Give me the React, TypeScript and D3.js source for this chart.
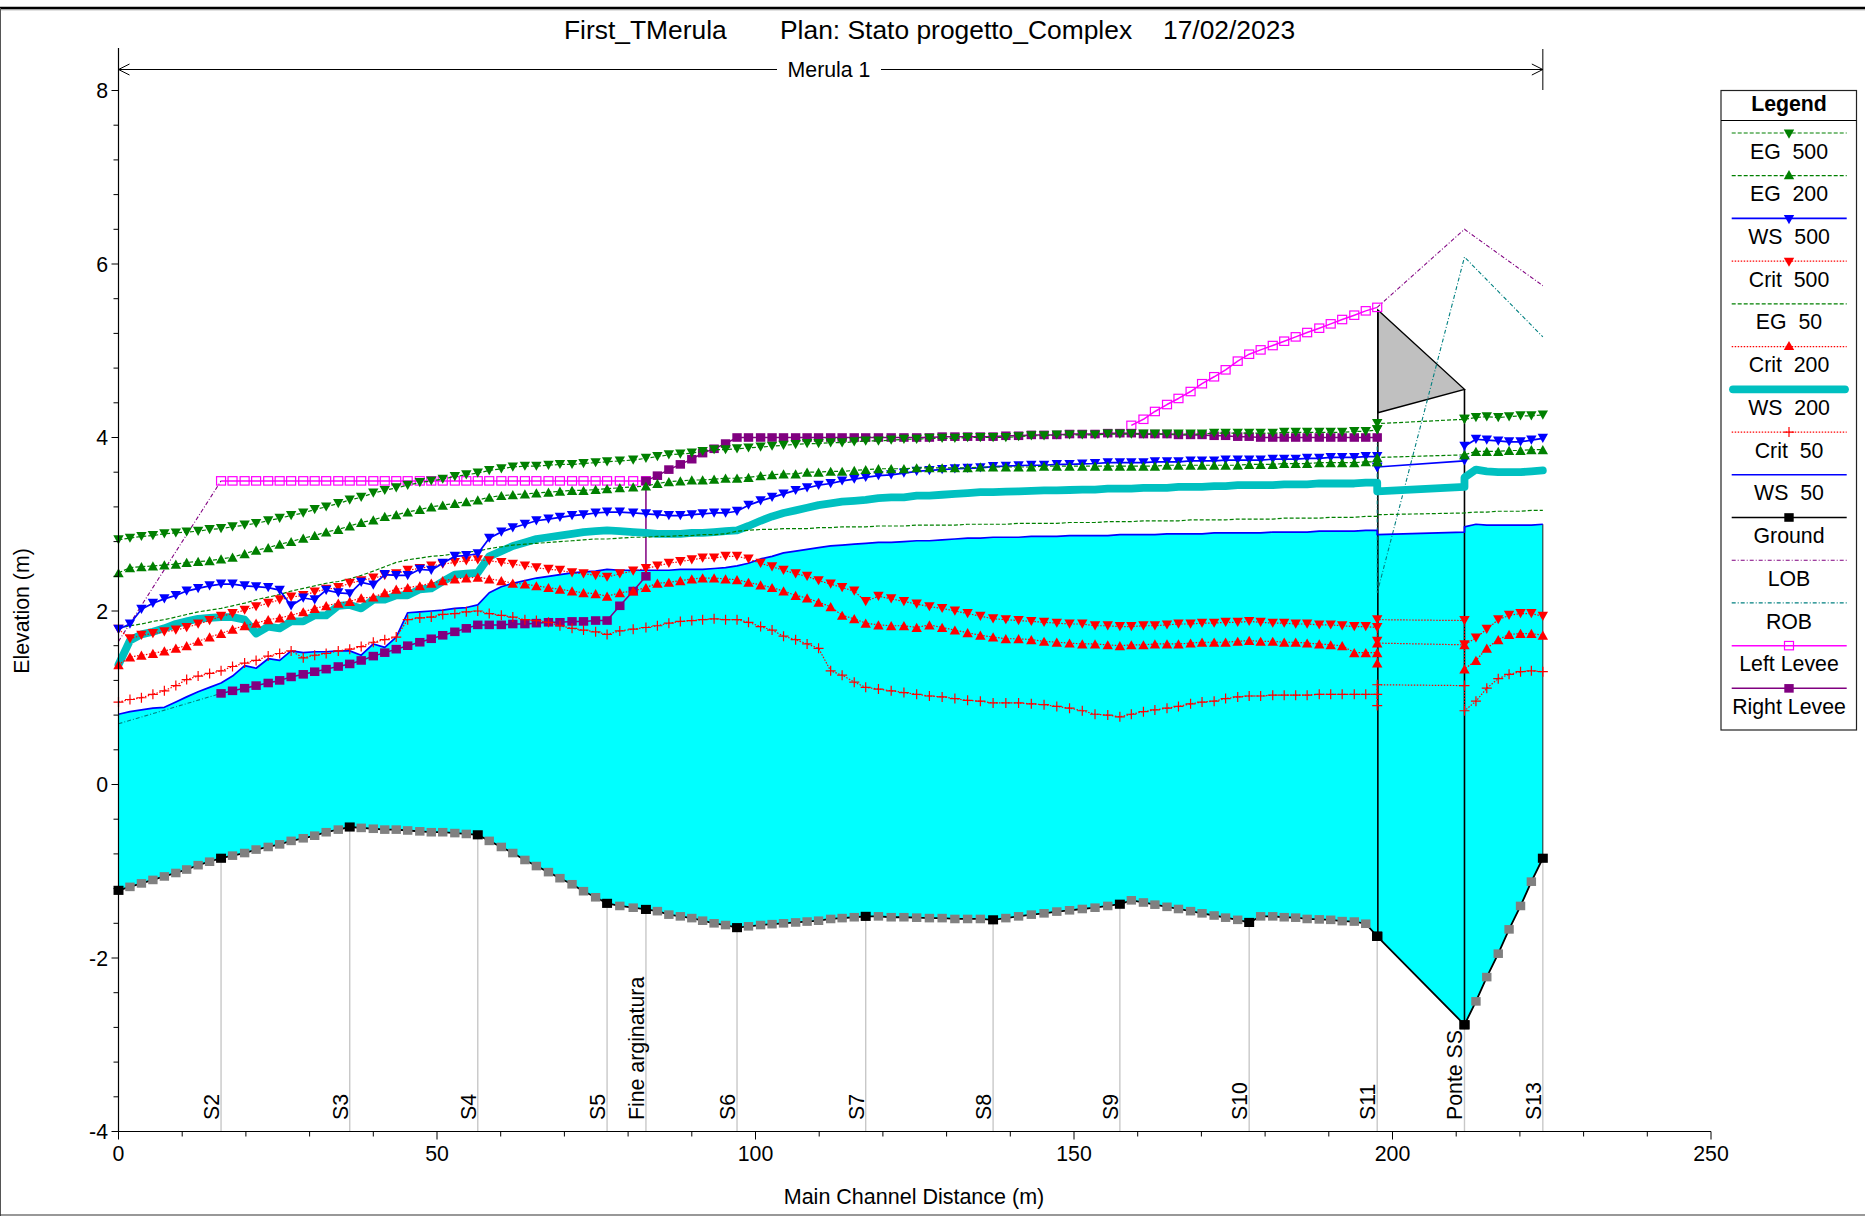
import React from "react";
import * as d3 from "d3";

// Stations along the reach (m). Interpolated sections sit between the named ones.
const stationX = [
  0, 1.8, 3.6, 5.4, 7.2, 9.0, 10.7, 12.5, 14.3, 16.1,
  17.9, 19.8, 21.6, 23.5, 25.3, 27.1, 29.0, 30.8, 32.6, 34.5, 36.3,
  38.1, 40.0, 41.8, 43.6, 45.4, 47.3, 49.1, 50.9, 52.8, 54.6, 56.4,
  58.2, 60.1, 61.9, 63.8, 65.6, 67.5, 69.3, 71.2, 73.0, 74.9, 76.7,
  78.7, 80.8, 82.8,
  84.6, 86.4, 88.2, 90.0, 91.7, 93.5, 95.3, 97.1,
  98.9, 100.8, 102.6, 104.4, 106.3, 108.1, 109.9, 111.8, 113.6, 115.5, 117.3,
  119.3, 121.3, 123.3, 125.3, 127.3, 129.3, 131.3, 133.3, 135.3, 137.3,
  139.3, 141.3, 143.3, 145.3, 147.3, 149.3, 151.3, 153.3, 155.3, 157.2,
  159.0, 160.9, 162.7, 164.6, 166.4, 168.3, 170.1, 172.0, 173.8, 175.7, 177.5,
  179.3, 181.2, 183.0, 184.8, 186.6, 188.5, 190.3, 192.1, 194.0, 195.8, 197.6,
  197.6, 197.6, 211.3, 211.3,
  213.1, 214.8, 216.6, 218.3, 220.1, 221.8, 223.6,
];

const eg500 = [
  2.82, 2.84, 2.86, 2.87, 2.89, 2.90, 2.91, 2.92, 2.94, 2.95,
  2.97, 2.99, 3.01, 3.04, 3.07, 3.10, 3.13, 3.17, 3.20, 3.24, 3.28,
  3.31, 3.36, 3.39, 3.42, 3.45, 3.48, 3.50, 3.52, 3.55, 3.57, 3.59,
  3.62, 3.64, 3.66, 3.67, 3.67, 3.68, 3.69, 3.69, 3.70, 3.71, 3.72,
  3.73, 3.74, 3.76,
  3.78, 3.80, 3.81, 3.82, 3.84, 3.86, 3.86, 3.87,
  3.88, 3.89, 3.90, 3.91, 3.92, 3.93, 3.93, 3.94, 3.94, 3.95, 3.96,
  3.96, 3.97, 3.98, 3.98, 3.99, 3.99, 3.99, 4.00, 4.00, 4.00,
  4.00, 4.01, 4.02, 4.02, 4.03, 4.03, 4.03, 4.03, 4.04, 4.04,
  4.04, 4.04, 4.04, 4.04, 4.04, 4.04, 4.04, 4.05, 4.05, 4.05, 4.05,
  4.05, 4.05, 4.06, 4.06, 4.06, 4.06, 4.06, 4.06, 4.07, 4.07, 4.09,
  4.09, 4.16, 4.21, 4.21,
  4.23, 4.24, 4.23, 4.24, 4.25, 4.25, 4.26,
];

const eg200 = [
  2.44, 2.50, 2.51, 2.52, 2.53, 2.54, 2.56, 2.57, 2.58, 2.60,
  2.62, 2.66, 2.70, 2.73, 2.77, 2.80, 2.84, 2.87, 2.91, 2.94, 2.98,
  3.02, 3.05, 3.09, 3.11, 3.14, 3.17, 3.20, 3.22, 3.24, 3.26, 3.28,
  3.31, 3.33, 3.34, 3.35, 3.36, 3.37, 3.38, 3.39, 3.39, 3.40, 3.41,
  3.42, 3.43, 3.44,
  3.47, 3.49, 3.50, 3.51, 3.51, 3.52, 3.53, 3.53,
  3.54, 3.56, 3.57, 3.58, 3.58, 3.60, 3.60, 3.61, 3.61, 3.62, 3.63,
  3.64, 3.64, 3.64, 3.65, 3.65, 3.65, 3.65, 3.65, 3.66, 3.66,
  3.66, 3.66, 3.66, 3.67, 3.67, 3.67, 3.67, 3.67, 3.67, 3.67,
  3.67, 3.67, 3.67, 3.68, 3.68, 3.68, 3.68, 3.68, 3.68, 3.68, 3.69,
  3.69, 3.69, 3.70, 3.70, 3.70, 3.71, 3.71, 3.71, 3.71, 3.72, 3.72,
  3.72, 3.77, 3.80, 3.80,
  3.84, 3.84, 3.84, 3.85, 3.85, 3.86, 3.86,
];

const ws500 = [
  1.79, 1.85, 2.02, 2.09, 2.14, 2.18, 2.23, 2.26, 2.29, 2.31,
  2.31, 2.29, 2.28, 2.27, 2.24, 2.06, 2.15, 2.13, 2.24, 2.21, 2.20,
  2.33, 2.30, 2.42, 2.41, 2.41, 2.48, 2.47, 2.55, 2.63, 2.64, 2.66,
  2.84, 2.91, 2.96, 3.00, 3.04, 3.06, 3.08, 3.10, 3.11, 3.13, 3.14,
  3.14, 3.13, 3.12,
  3.11, 3.10, 3.10, 3.11, 3.12, 3.13, 3.13, 3.15,
  3.22, 3.27, 3.31, 3.35, 3.39, 3.42, 3.45, 3.47, 3.50, 3.52, 3.54,
  3.56, 3.57, 3.59, 3.61, 3.62, 3.63, 3.64, 3.645, 3.65, 3.665,
  3.67, 3.675, 3.68, 3.68, 3.69, 3.69, 3.695, 3.70, 3.71, 3.71,
  3.71, 3.71, 3.72, 3.72, 3.72, 3.73, 3.73, 3.73, 3.74, 3.74, 3.74,
  3.74, 3.75, 3.75, 3.75, 3.76, 3.76, 3.77, 3.77, 3.77, 3.78, 3.78,
  3.65, 3.66, 3.73, 3.90,
  3.98, 3.97, 3.96, 3.95, 3.95, 3.97, 3.99,
];

const crit500 = [
  1.79, 1.68, 1.72, 1.74, 1.76, 1.78, 1.81, 1.85, 1.89, 1.94,
  1.97, 2.01, 2.05, 2.09, 2.13, 2.16, 2.18, 2.22, 2.25, 2.27, 2.32,
  2.35, 2.38, 2.41, 2.43, 2.47, 2.49, 2.52, 2.54, 2.56, 2.58, 2.59,
  2.58, 2.56, 2.54, 2.52, 2.50, 2.48, 2.47, 2.44, 2.43, 2.41, 2.39,
  2.43, 2.46, 2.49,
  2.52, 2.55, 2.57, 2.59, 2.61, 2.61, 2.63, 2.63,
  2.60, 2.55, 2.51, 2.47, 2.43, 2.40, 2.35, 2.31, 2.27, 2.23, 2.11,
  2.17, 2.14, 2.11, 2.08, 2.05, 2.03, 2.00, 1.97, 1.94, 1.91,
  1.90, 1.89, 1.88, 1.87, 1.86, 1.85, 1.85, 1.83, 1.83, 1.82,
  1.82, 1.83, 1.83, 1.84, 1.85, 1.85, 1.86, 1.86, 1.87, 1.87, 1.88,
  1.87, 1.86, 1.86, 1.85, 1.85, 1.84, 1.84, 1.83, 1.82, 1.82, 1.81,
  1.65, 1.90, 1.89, 1.61,
  1.69, 1.79, 1.90, 1.95, 1.97, 1.97, 1.94,
];

const eg50 = [
  1.80, 1.83, 1.85, 1.88, 1.90, 1.93, 1.96, 1.99, 2.01, 2.03,
  2.06, 2.09, 2.13, 2.16, 2.19, 2.23, 2.26, 2.29, 2.32, 2.34, 2.37,
  2.41, 2.46, 2.51, 2.56, 2.59, 2.61, 2.63, 2.64, 2.66, 2.68, 2.69,
  2.72, 2.74, 2.76, 2.77, 2.78, 2.79, 2.80, 2.81, 2.82, 2.83, 2.83,
  2.84, 2.85, 2.85,
  2.86, 2.86, 2.87, 2.87, 2.88, 2.88, 2.89, 2.92,
  2.93, 2.94, 2.94, 2.95, 2.95, 2.95, 2.96, 2.96, 2.97, 2.97, 2.97,
  2.98, 2.98, 2.98, 2.99, 2.99, 2.99, 2.99, 3.00, 3.00, 3.00,
  3.00, 3.01, 3.01, 3.01, 3.01, 3.02, 3.02, 3.02, 3.03, 3.03,
  3.03, 3.04, 3.04, 3.04, 3.04, 3.05, 3.05, 3.05, 3.05, 3.06, 3.06,
  3.06, 3.06, 3.07, 3.07, 3.07, 3.07, 3.08, 3.08, 3.08, 3.09, 3.09,
  3.09, 3.11, 3.13, 3.13,
  3.14, 3.14, 3.15, 3.15, 3.15, 3.16, 3.16,
];

const crit200 = [
  1.38, 1.47, 1.49, 1.51, 1.54, 1.57, 1.60, 1.65, 1.70, 1.74,
  1.79, 1.83, 1.86, 1.90, 1.92, 1.95, 1.99, 2.03, 2.06, 2.09, 2.11,
  2.15, 2.16, 2.21, 2.25, 2.27, 2.29, 2.32, 2.35, 2.37, 2.38, 2.39,
  2.37, 2.35, 2.32, 2.31, 2.29, 2.27, 2.25, 2.23, 2.21, 2.20, 2.17,
  2.21, 2.23, 2.27,
  2.32, 2.33, 2.35, 2.37, 2.38, 2.38, 2.37, 2.36,
  2.33, 2.30, 2.27, 2.23, 2.18, 2.15, 2.10, 2.05, 1.95, 1.91, 1.86,
  1.84, 1.83, 1.83, 1.81, 1.84, 1.81, 1.78, 1.75, 1.72, 1.70,
  1.68, 1.68, 1.67, 1.65, 1.64, 1.63, 1.62, 1.62, 1.61, 1.60,
  1.61, 1.61, 1.62, 1.62, 1.62, 1.63, 1.64, 1.64, 1.64, 1.65, 1.66,
  1.65, 1.65, 1.64, 1.64, 1.63, 1.62, 1.61, 1.60, 1.52, 1.52, 1.52,
  1.40, 1.63, 1.61, 1.33,
  1.43, 1.57, 1.67, 1.73, 1.74, 1.74, 1.72,
];

const ws200 = [
  1.38, 1.66, 1.73, 1.76, 1.80, 1.85, 1.88, 1.91, 1.92, 1.93,
  1.93, 1.90, 1.74, 1.82, 1.80, 1.88, 1.88, 1.95, 1.95, 2.06, 2.07,
  2.03, 2.13, 2.13, 2.18, 2.18, 2.25, 2.26, 2.34, 2.42, 2.43, 2.44,
  2.63, 2.69, 2.75, 2.79, 2.83, 2.85, 2.87, 2.89, 2.91, 2.92, 2.93,
  2.92, 2.91, 2.90,
  2.89, 2.89, 2.89, 2.90, 2.90, 2.91, 2.92, 2.93,
  2.98, 3.04, 3.09, 3.13, 3.16, 3.19, 3.22, 3.24, 3.26, 3.27, 3.28,
  3.30, 3.31, 3.31, 3.33, 3.33, 3.34, 3.35, 3.36, 3.37, 3.37,
  3.375, 3.38, 3.385, 3.39, 3.39, 3.395, 3.40, 3.40, 3.41, 3.41,
  3.41, 3.42, 3.42, 3.42, 3.43, 3.43, 3.43, 3.44, 3.44, 3.45, 3.45,
  3.45, 3.45, 3.46, 3.46, 3.46, 3.47, 3.47, 3.47, 3.47, 3.48, 3.48,
  3.38, 3.38, 3.43, 3.54,
  3.63, 3.61, 3.60, 3.60, 3.60, 3.61, 3.62,
];

const crit50 = [
  0.95, 0.98, 1.00, 1.04, 1.08, 1.14, 1.21, 1.25, 1.28, 1.31,
  1.36, 1.40, 1.43, 1.48, 1.51, 1.54, 1.46, 1.49, 1.51, 1.54, 1.56,
  1.59, 1.64, 1.67, 1.70, 1.90, 1.92, 1.93, 1.96, 1.97, 1.99, 2.00,
  1.97, 1.95, 1.93, 1.90, 1.89, 1.87, 1.83, 1.80, 1.78, 1.76, 1.73,
  1.77, 1.79, 1.81,
  1.83, 1.86, 1.88, 1.89, 1.90, 1.91, 1.90, 1.90,
  1.87, 1.82, 1.78, 1.71, 1.67, 1.62, 1.57, 1.31, 1.26, 1.18, 1.12,
  1.10, 1.08, 1.06, 1.04, 1.02, 1.01, 0.99, 0.97, 0.96, 0.94,
  0.94, 0.94, 0.93, 0.92, 0.90, 0.88, 0.85, 0.81, 0.80, 0.78,
  0.81, 0.84, 0.86, 0.88, 0.90, 0.93, 0.95, 0.96, 0.99, 1.01, 1.02,
  1.02, 1.03, 1.03, 1.03, 1.03, 1.04, 1.04, 1.04, 1.04, 1.04, 1.04,
  0.91, 1.15, 1.14, 0.85,
  0.96, 1.11, 1.22, 1.27, 1.30, 1.31, 1.30,
];

const ws50 = [
  0.81, 0.84, 0.86, 0.88, 0.89, 0.95, 1.01, 1.07, 1.12, 1.17,
  1.25, 1.37, 1.34, 1.45, 1.43, 1.54, 1.52, 1.53, 1.53, 1.54, 1.54,
  1.49, 1.62, 1.58, 1.70, 1.98, 1.99, 2.00, 2.01, 2.03, 2.04, 2.07,
  2.21, 2.28, 2.32, 2.35, 2.38, 2.40, 2.42, 2.44, 2.45, 2.46, 2.48,
  2.47, 2.47, 2.47,
  2.47, 2.47, 2.48, 2.48, 2.48, 2.49, 2.50, 2.52,
  2.55, 2.60, 2.63, 2.67, 2.69, 2.71, 2.73, 2.75, 2.76, 2.77, 2.78,
  2.79, 2.79, 2.80, 2.81, 2.81, 2.82, 2.83, 2.84, 2.84, 2.85,
  2.85, 2.85, 2.86, 2.86, 2.86, 2.87, 2.87, 2.87, 2.87, 2.88,
  2.88, 2.88, 2.88, 2.89, 2.89, 2.89, 2.89, 2.90, 2.90, 2.90, 2.90,
  2.90, 2.91, 2.91, 2.91, 2.91, 2.92, 2.92, 2.92, 2.92, 2.93, 2.93,
  2.88, 2.88, 2.91, 2.97,
  3.00, 2.99, 2.99, 2.99, 2.99, 2.99, 3.00,
];

const ground = [
  -1.22, -1.18, -1.14, -1.10, -1.06, -1.02, -0.98, -0.93, -0.89, -0.85,
  -0.82, -0.79, -0.75, -0.72, -0.69, -0.65, -0.62, -0.59, -0.55, -0.52, -0.49,
  -0.50, -0.51, -0.52, -0.52, -0.53, -0.54, -0.55, -0.55, -0.56, -0.57, -0.58,
  -0.65, -0.72, -0.79, -0.87, -0.94, -1.01, -1.08, -1.15, -1.23, -1.30, -1.37,
  -1.40, -1.42, -1.44,
  -1.46, -1.50, -1.52, -1.54, -1.57, -1.60, -1.62, -1.65,
  -1.635, -1.62, -1.61, -1.60, -1.59, -1.58, -1.57, -1.55, -1.54, -1.53, -1.52,
  -1.52, -1.53, -1.53, -1.535, -1.54, -1.54, -1.55, -1.55, -1.55, -1.56,
  -1.54, -1.52, -1.50, -1.485, -1.465, -1.45, -1.435, -1.42, -1.40, -1.38,
  -1.335, -1.36, -1.385, -1.41, -1.435, -1.46, -1.485, -1.51, -1.535, -1.56, -1.59,
  -1.52, -1.52, -1.53, -1.535, -1.55, -1.555, -1.56, -1.575, -1.58, -1.605, -1.75,
  -1.75, -1.75, -2.77, -2.77,
  -2.50, -2.22, -1.95, -1.67, -1.40, -1.12, -0.85,
];

// Levees exist only on parts of the reach; each list starts at a station number.
const leftLeveeDownStart = 9;
const leftLeveeDown = [
  3.5, 3.5, 3.5, 3.5, 3.5, 3.5, 3.5, 3.5, 3.5, 3.5, 3.5, 3.5,
  3.5, 3.5, 3.5, 3.5, 3.5, 3.5, 3.5, 3.5, 3.5, 3.5, 3.5,
  3.5, 3.5, 3.5, 3.5, 3.5, 3.5, 3.5, 3.5, 3.5, 3.5, 3.5,
  3.5, 3.5, 3.5,
];
const leftLeveeUpStart = 85;
const leftLeveeUp = [
  4.14, 4.21, 4.30, 4.38, 4.45, 4.53, 4.62, 4.70, 4.78, 4.88, 4.96,
  5.01, 5.06, 5.11, 5.16, 5.21, 5.26, 5.31, 5.36, 5.41, 5.46, 5.50,
];
const rightLeveeStart = 9;
const rightLevee = [
  1.05, 1.08, 1.11, 1.14, 1.17, 1.20, 1.24, 1.27, 1.30, 1.33, 1.36, 1.39,
  1.43, 1.48, 1.52, 1.56, 1.60, 1.64, 1.68, 1.72, 1.76, 1.80, 1.84,
  1.84, 1.84, 1.85, 1.85, 1.86, 1.87, 1.87, 1.88, 1.88, 1.89, 1.89,
  2.06, 2.23, 2.40,
];
const rightLeveeHighStart = 45;
const rightLeveeHigh = [
  3.50,
  3.56, 3.63, 3.69, 3.75, 3.82, 3.87, 3.93, 4.00,
  4.00, 4.00, 4.00, 4.00, 4.00, 4.00, 4.00, 4.00, 4.00, 4.00, 4.00,
  4.00, 4.00, 4.00, 4.00, 4.00, 4.01, 4.01, 4.01, 4.01, 4.01,
  4.02, 4.02, 4.03, 4.03, 4.03, 4.04, 4.04, 4.04, 4.05, 4.05,
  4.05, 4.04, 4.04, 4.04, 4.03, 4.03, 4.03, 4.02, 4.02, 4.01, 4.01,
  4.00, 4.00, 4.00, 4.00, 4.00, 4.00, 4.00, 4.00, 4.00, 4.00, 4.00,
];

const lobUpX = [0, 16.1];
const lobUp = [1.65, 3.5];
const lobDownX = [197.6, 211.3, 223.6];
const lobDown = [5.5, 6.4, 5.75];
const robUpX = [0, 16.1];
const robUp = [0.7, 1.05];
const robDownX = [197.6, 197.6, 211.3, 223.6];
const robDown = [4.0, 2.21, 6.08, 5.16];

const sectionNames = ["S2", "S3", "S4", "S5", "Fine arginatura", "S6", "S7", "S8", "S9", "S10", "S11", "Ponte SS", "S13"];
const sectionX = [16.1, 36.3, 56.4, 76.7, 82.8, 97.1, 117.3, 137.3, 157.2, 177.5, 197.6, 211.3, 223.6];
const sectionGround = [-0.85, -0.49, -0.58, -1.37, -1.44, -1.65, -1.52, -1.56, -1.38, -1.59, -1.75, -2.77, -0.85];

const bridgeX = [197.7, 211.3];
const bridgeTop = [5.47, 4.555];
const bridgeBottom = [4.285, 4.555];
const bridgeFoot = [-1.75, -2.77];

const yMajor = [-4, -2, 0, 2, 4, 6, 8];
const yMinor = [-3.6, -3.2, -2.8, -2.4, -1.6, -1.2, -0.8, -0.4, 0.4, 0.8, 1.2, 1.6, 2.4, 2.8, 3.2, 3.6, 4.4, 4.8, 5.2, 5.6, 6.4, 6.8, 7.2, 7.6];
const xMajor = [0, 50, 100, 150, 200, 250];
const xMinor = [10, 20, 30, 40, 60, 70, 80, 90, 110, 120, 130, 140, 160, 170, 180, 190, 210, 220, 230, 240];

const GREEN = "#008000", BLUE = "#0000ff", RED = "#ff0000", TEAL = "#00c0c0", CYAN = "#00ffff";
const PURPLE = "#800080", MAGENTA = "#ff00ff", DARKTEAL = "#008080", FONT = "'Liberation Sans', Arial, sans-serif";
const BANK_DASH = "4 2 1 2";

const legendItems = [
  { name: "EG  500", color: GREEN, width: 1.2, dash: "4 2", marker: "down" },
  { name: "EG  200", color: GREEN, width: 1.2, dash: "4 2", marker: "up" },
  { name: "WS  500", color: BLUE, width: 1.7, dash: "", marker: "down" },
  { name: "Crit  500", color: RED, width: 1.2, dash: "1.5 1.5", marker: "down" },
  { name: "EG  50", color: GREEN, width: 1.2, dash: "4 2", marker: "" },
  { name: "Crit  200", color: RED, width: 1.2, dash: "1.5 1.5", marker: "up" },
  { name: "WS  200", color: TEAL, width: 7.8, dash: "", marker: "" },
  { name: "Crit  50", color: RED, width: 1.2, dash: "1.5 1.5", marker: "plus" },
  { name: "WS  50", color: BLUE, width: 1.7, dash: "", marker: "" },
  { name: "Ground", color: "#000000", width: 1.6, dash: "", marker: "square" },
  { name: "LOB", color: PURPLE, width: 1.1, dash: BANK_DASH, marker: "" },
  { name: "ROB", color: DARKTEAL, width: 1.1, dash: BANK_DASH, marker: "" },
  { name: "Left Levee", color: MAGENTA, width: 1.5, dash: "", marker: "hollow" },
  { name: "Right Levee", color: PURPLE, width: 1.5, dash: "", marker: "square" },
];

const x = d3.scaleLinear().domain([0, 250]).range([118.5, 1711]);
const y = d3.scaleLinear().domain([-4, 8]).range([1131.5, 90.5]);

type Pt = [number, number];
const zip = (xs: number[], ys: number[]): Pt[] => ys.map((v, i) => [xs[i], v]);
const atStations = (start: number, ys: number[]): Pt[] => ys.map((v, i) => [stationX[start + i], v]);
const lineGen = d3.line<Pt>().x((d) => x(d[0])).y((d) => y(d[1]));

function Marker({ kind, color, px, py, size = 1 }: { kind: string; color: string; px: number; py: number; size?: number }) {
  const t = `translate(${px},${py})`;
  if (kind === "down") return <path transform={t} d="M-5.2,-4.5L5.2,-4.5L0,4.7Z" fill={color} />;
  if (kind === "up") return <path transform={t} d="M-5.2,4.5L5.2,4.5L0,-4.7Z" fill={color} />;
  if (kind === "plus") return <path transform={t} d="M-5,0H5M0,-5V5" fill="none" stroke={color} strokeWidth={1.2} />;
  if (kind === "hollow") return <rect x={px - 4.5} y={py - 4.2} width={9} height={8.4} fill="none" stroke={color} strokeWidth={1.2} />;
  return <rect x={px - 4.7 * size} y={py - 4.3 * size} width={9.4 * size} height={8.6 * size} fill={color} />;
}

function Series({ pts, item }: { pts: Pt[]; item: (typeof legendItems)[number] }) {
  return (
    <g>
      <path
        d={lineGen(pts) as string}
        fill="none"
        stroke={item.color}
        strokeWidth={item.width}
        strokeDasharray={item.dash || undefined}
        strokeLinejoin="round"
        strokeLinecap={item.width > 3 ? "round" : "butt"}
      />
      {item.marker && pts.map((p, i) => <Marker key={i} kind={item.marker} color={item.color} px={x(p[0])} py={y(p[1])} />)}
    </g>
  );
}

export default function App() {
  const it = (n: string) => legendItems.find((l) => l.name === n)!;
  const area = d3
    .area<number>()
    .x((d) => x(stationX[d]))
    .y0((d) => y(ground[d]))
    .y1((d) => y(ws50[d]));
  const groundPts = zip(stationX, ground);
  const deck = [
    [bridgeX[0], bridgeTop[0]],
    [bridgeX[1], bridgeTop[1]],
    [bridgeX[1], bridgeBottom[1]],
    [bridgeX[0], bridgeBottom[0]],
  ] as Pt[];
  const textBase = { fontFamily: FONT, fill: "#000" };
  const arrowY = 69.5;
  const FS = 21.3;
  return (
    <svg width={1865} height={1216} style={{ position: "absolute", left: 0, top: 0, display: "block" }} xmlns="http://www.w3.org/2000/svg">
      <rect width={1865} height={1216} fill="#fff" />
      <line x1={0} x2={1865} y1={8} y2={8} stroke="#000" strokeWidth={2.6} />
      <line x1={0} x2={1865} y1={9.8} y2={9.8} stroke="#999" strokeWidth={1} />
      <line x1={0.5} x2={0.5} y1={8} y2={1216} stroke="#555" strokeWidth={1} />
      <line x1={0} x2={1865} y1={1215} y2={1215} stroke="#333" strokeWidth={1.2} />

      <g {...textBase} fontSize={26.4}>
        <text x={564} y={39}>First_TMerula</text>
        <text x={780} y={39}>Plan: Stato progetto_Complex</text>
        <text x={1163} y={39}>17/02/2023</text>
      </g>

      {/* reach banner */}
      <line x1={x(0)} x2={777} y1={arrowY} y2={arrowY} stroke="#000" strokeWidth={1} />
      <line x1={881} x2={x(223.6)} y1={arrowY} y2={arrowY} stroke="#000" strokeWidth={1} />
      <path d={`M${x(0) + 11},${arrowY - 5.5}L${x(0)},${arrowY}L${x(0) + 11},${arrowY + 5.5}`} fill="none" stroke="#000" strokeWidth={1} />
      <path d={`M${x(223.6) - 11},${arrowY - 5.5}L${x(223.6)},${arrowY}L${x(223.6) - 11},${arrowY + 5.5}`} fill="none" stroke="#000" strokeWidth={1} />
      <line x1={x(223.6)} x2={x(223.6)} y1={49} y2={90} stroke="#000" strokeWidth={1} />
      <text {...textBase} x={829} y={77} fontSize={FS} textAnchor="middle">Merula 1</text>

      {/* water fill */}
      <path d={area(d3.range(stationX.length)) as string} fill={CYAN} />
      <line x1={x(223.6)} x2={x(223.6)} y1={y(3.0)} y2={y(-0.85)} stroke="#222" strokeWidth={1} />

      {/* section lines and labels */}
      {sectionX.map((s, i) => (
        <line key={s} x1={x(s)} x2={x(s)} y1={y(sectionGround[i])} y2={y(-4)} stroke="#c8c8c8" strokeWidth={1.4} />
      ))}
      {sectionNames.map((n, i) => (
        <text key={n} {...textBase} fontSize={FS} transform={`translate(${x(sectionX[i]) - 2},1120) rotate(-90)`}>
          {n}
        </text>
      ))}

      {/* bridge */}
      <path d={(lineGen(deck) as string) + "Z"} fill="#c0c0c0" stroke="#000" strokeWidth={1.4} />
      {bridgeX.map((b, i) => (
        <line key={b} x1={x(b)} x2={x(b)} y1={y(bridgeTop[i])} y2={y(bridgeFoot[i])} stroke="#000" strokeWidth={1.6} />
      ))}

      {/* ground */}
      <path d={lineGen(groundPts) as string} fill="none" stroke="#000" strokeWidth={1.8} />
      {groundPts.map((p, i) => {
        const named = p[0] === 0 || sectionX.includes(p[0]);
        return <Marker key={i} kind="square" color={named ? "#000" : "#808080"} px={x(p[0])} py={y(p[1])} size={named ? 1.06 : 1} />;
      })}

      {/* banks and levees */}
      <path d={lineGen(zip(robUpX, robUp)) as string} fill="none" stroke={DARKTEAL} strokeWidth={1.1} strokeDasharray={BANK_DASH} />
      <path d={lineGen(zip(robDownX, robDown)) as string} fill="none" stroke={DARKTEAL} strokeWidth={1.1} strokeDasharray={BANK_DASH} />
      <path d={lineGen(zip(lobUpX, lobUp)) as string} fill="none" stroke={PURPLE} strokeWidth={1.1} strokeDasharray={BANK_DASH} />
      <path d={lineGen(zip(lobDownX, lobDown)) as string} fill="none" stroke={PURPLE} strokeWidth={1.1} strokeDasharray={BANK_DASH} />
      <Series pts={atStations(leftLeveeDownStart, leftLeveeDown)} item={it("Left Levee")} />
      <Series pts={atStations(leftLeveeUpStart, leftLeveeUp)} item={it("Left Levee")} />
      <Series
        pts={[...atStations(rightLeveeStart, rightLevee), ...atStations(rightLeveeHighStart, rightLeveeHigh)]}
        item={it("Right Levee")}
      />

      {/* profiles, last legend entry first */}
      <Series pts={zip(stationX, ws50)} item={it("WS  50")} />
      <Series pts={zip(stationX, crit50)} item={it("Crit  50")} />
      <Series pts={zip(stationX, ws200)} item={it("WS  200")} />
      <Series pts={zip(stationX, crit200)} item={it("Crit  200")} />
      <Series pts={zip(stationX, eg50)} item={it("EG  50")} />
      <Series pts={zip(stationX, crit500)} item={it("Crit  500")} />
      <Series pts={zip(stationX, ws500)} item={it("WS  500")} />
      <Series pts={zip(stationX, eg200)} item={it("EG  200")} />
      <Series pts={zip(stationX, eg500)} item={it("EG  500")} />

      {/* axes */}
      <line x1={x(0)} x2={x(0)} y1={48} y2={y(-4)} stroke="#000" strokeWidth={1.2} />
      <line x1={x(0)} x2={x(250)} y1={y(-4)} y2={y(-4)} stroke="#000" strokeWidth={1.2} />
      {yMinor.map((v) => (
        <line key={v} x1={x(0) - 5} x2={x(0)} y1={y(v)} y2={y(v)} stroke="#000" strokeWidth={1} />
      ))}
      {yMajor.map((v) => (
        <g key={v}>
          <line x1={x(0) - 7} x2={x(0)} y1={y(v)} y2={y(v)} stroke="#000" strokeWidth={1} />
          <text {...textBase} x={108} y={y(v) + 7.5} fontSize={FS} textAnchor="end">{String(v)}</text>
        </g>
      ))}
      {xMinor.map((v) => (
        <line key={v} x1={x(v)} x2={x(v)} y1={y(-4)} y2={y(-4) + 5} stroke="#000" strokeWidth={1} />
      ))}
      {xMajor.map((v) => (
        <g key={v}>
          <line x1={x(v)} x2={x(v)} y1={y(-4)} y2={y(-4) + 8} stroke="#000" strokeWidth={1} />
          <text {...textBase} x={x(v)} y={1161} fontSize={FS} textAnchor="middle">{String(v)}</text>
        </g>
      ))}
      <text {...textBase} x={914} y={1204} fontSize={21.5} textAnchor="middle">Main Channel Distance (m)</text>
      <text {...textBase} fontSize={FS} textAnchor="middle" transform={`translate(29,611) rotate(-90)`}>Elevation (m)</text>

      {/* legend */}
      <rect x={1721} y={90.5} width={135.5} height={639.5} fill="#fff" stroke="#222" strokeWidth={1.2} />
      <line x1={1721} x2={1856.5} y1={120.5} y2={120.5} stroke="#000" strokeWidth={1} />
      <text {...textBase} x={1789} y={111} fontSize={FS} fontWeight="bold" textAnchor="middle">Legend</text>
      {legendItems.map((l, i) => {
        const ly = 133 + 42.72 * i;
        return (
          <g key={l.name}>
            <line
              x1={l.width > 3 ? 1733 : 1731.7}
              x2={l.width > 3 ? 1845 : 1846.7}
              y1={ly}
              y2={ly}
              stroke={l.color}
              strokeWidth={l.width}
              strokeDasharray={l.dash || undefined}
              strokeLinecap={l.width > 3 ? "round" : "butt"}
            />
            {l.marker && <Marker kind={l.marker} color={l.color} px={1789} py={ly + (l.marker === "down" ? 1 : l.marker === "up" ? -1 : 0)} />}
            <text {...textBase} x={1789} y={ly + 25.6} fontSize={FS} textAnchor="middle" style={{ whiteSpace: "pre" }}>{l.name}</text>
          </g>
        );
      })}
    </svg>
  );
}
